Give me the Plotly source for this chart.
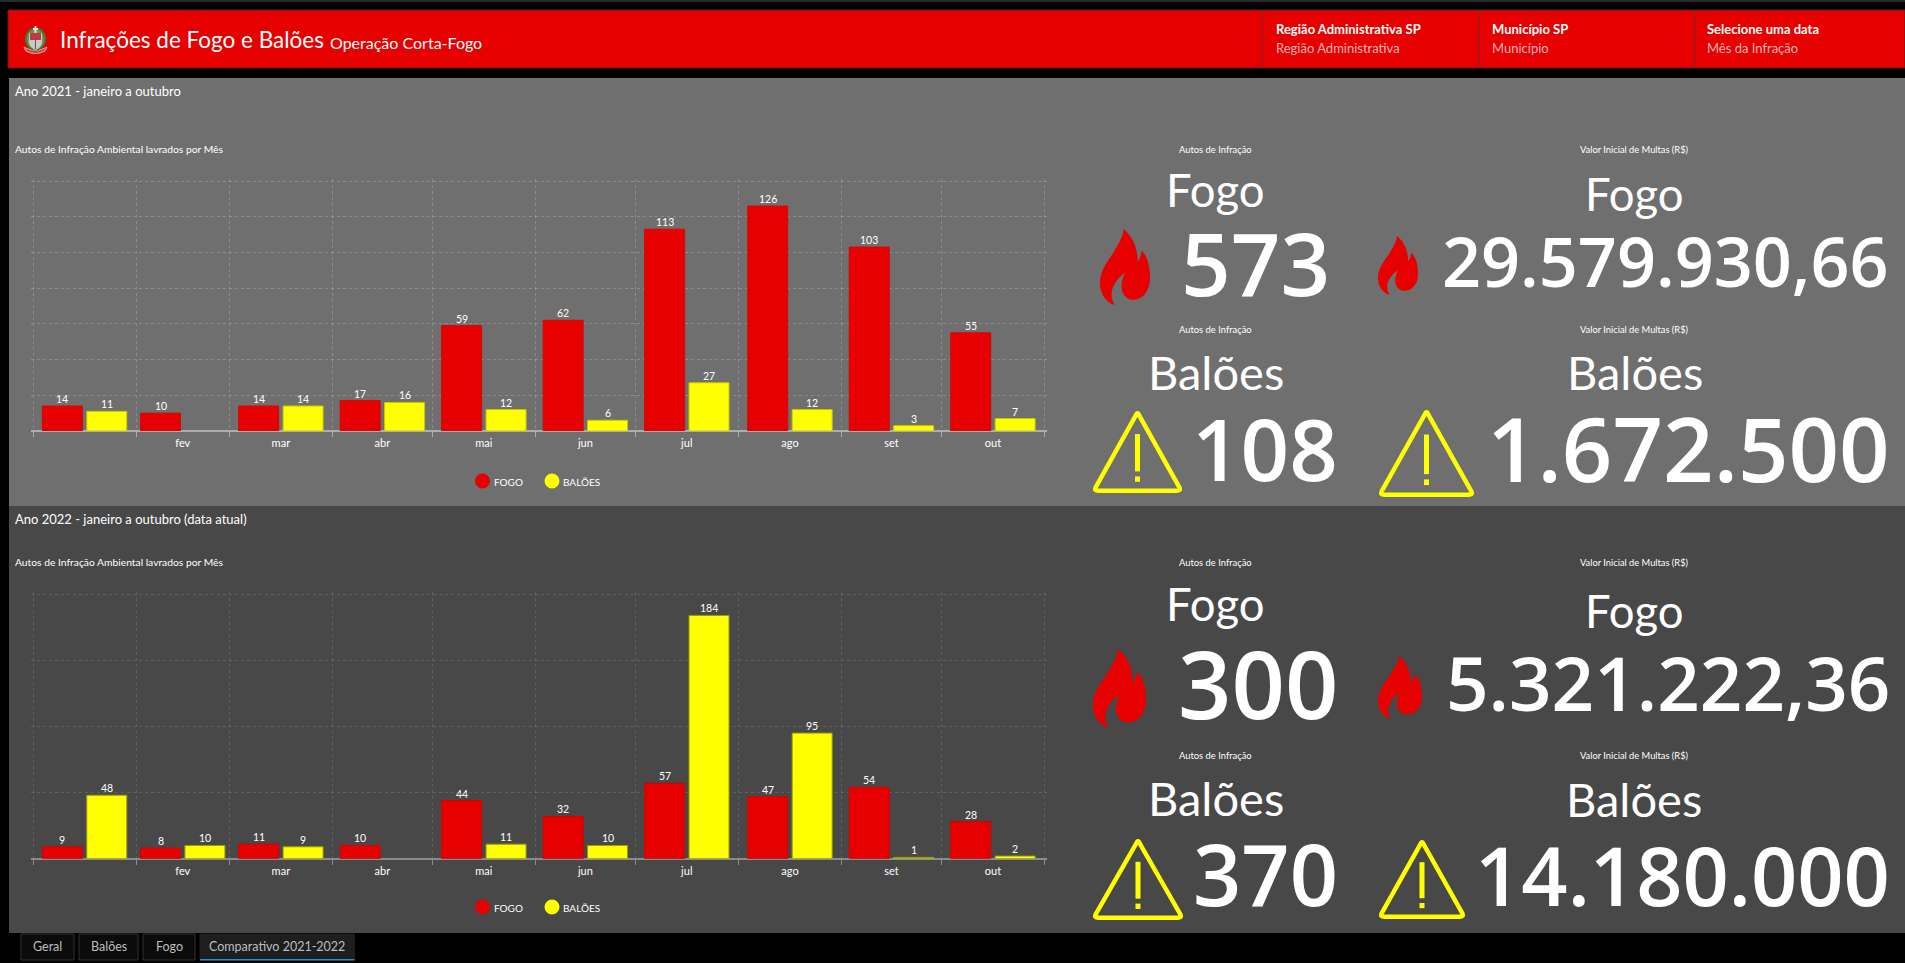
import pandas as pd
import plotly.graph_objects as go

W, H = 1905, 963
FONT = "Lato"
NUM_FONT = "Open Sans"
RED = "#e60000"
YELLOW = "#ffff00"

MESES = ["", "fev", "mar", "abr", "mai", "jun", "jul", "ago", "set", "out"]
FOGO_2021 = [14, 10, 14, 17, 59, 62, 113, 126, 103, 55]
BALOES_2021 = [11, None, 14, 16, 12, 6, 27, 12, 3, 7]
FOGO_2022 = [9, 8, 11, 10, 44, 32, 57, 47, 54, 28]
BALOES_2022 = [48, 10, 9, None, 11, 10, 184, 95, 1, 2]

KPI_AUTOS_FOGO = ["573", "300"]
KPI_AUTOS_BALOES = ["108", "370"]
KPI_MULTAS_FOGO = ["29.579.930,66", "5.321.222,36"]
KPI_MULTAS_BALOES = ["1.672.500", "14.180.000"]
ABAS = ["Geral", "Balões", "Fogo", "Comparativo 2021-2022"]

px = lambda x: x / W
py = lambda y: 1 - y / H

shapes, annotations = [], []


def rect(x0, y0, x1, y1, fill, line=None, lw=0):
    shapes.append(dict(type="rect", xref="paper", yref="paper", layer="below",
                       x0=px(x0), x1=px(x1), y0=py(y0), y1=py(y1), fillcolor=fill,
                       line=dict(color=line or fill, width=lw)))


def circle(cx, cy, rx, ry, fill, line=None, lw=0):
    shapes.append(dict(type="circle", xref="paper", yref="paper", layer="below",
                       x0=px(cx - rx), x1=px(cx + rx), y0=py(cy - ry), y1=py(cy + ry),
                       fillcolor=fill, line=dict(color=line or fill, width=lw)))


def path(cmds, fill=None, line=None, lw=0):
    out = []
    for c in cmds:
        if isinstance(c, str):
            out.append(c)
        else:
            out.append(f"{px(c[0]):.6f},{py(c[1]):.6f}")
    shapes.append(dict(type="path", xref="paper", yref="paper", layer="below",
                       path=" ".join(out), fillcolor=fill or "rgba(0,0,0,0)",
                       line=dict(color=line or "rgba(0,0,0,0)", width=lw)))


def txt(x, y, s, size, color="#ffffff", anchor="left", weight=400, family=FONT):
    annotations.append(dict(xref="paper", yref="paper", x=px(x), y=py(y), text=s, showarrow=False,
                            xanchor=anchor, yanchor="middle", borderpad=0, borderwidth=0,
                            font=dict(family=family, size=size, color=color, weight=weight)))


def num(x, y, s, size):
    txt(x + 2, y - 0.05 * size, s, size, anchor="right", weight=600, family=NUM_FONT)


FLAME = [("M", .30, 1), ("C", .12, .97, 0, .85, 0, .71), ("C", 0, .52, .20, .40, .33, .24), ("C", .42, .14, .47, .07, .47, 0),
         ("C", .62, .08, .76, .22, .75, .43), ("C", .79, .40, .83, .34, .83, .28), ("C", .96, .37, 1, .50, 1, .64),
         ("C", 1, .82, .85, .93, .66, .93), ("C", .53, .93, .42, .85, .43, .74), ("C", .43, .68, .47, .63, .50, .58),
         ("C", .36, .64, .24, .74, .23, .86), ("C", .23, .92, .26, .97, .30, 1)]


def flame(x0, y0, x1, y1):
    cmds = []
    for seg in FLAME:
        cmds.append(seg[0])
        vals = seg[1:]
        for i in range(0, len(vals), 2):
            cmds.append((x0 + vals[i] * (x1 - x0), y0 + vals[i + 1] * (y1 - y0)))
    cmds.append("Z")
    path(cmds, fill=RED)


def warning(x0, y0, x1, y1):
    lw = 4.5
    a, b = x0 + lw / 2, x1 - lw / 2
    t, u = y0 + lw / 2, y1 - lw / 2
    m = (a + b) / 2
    r = 3
    path(["M", (m - r * .55, t + r), "Q", (m, t - 1), (m + r * .55, t + r),
          "L", (b - .2, u - r), "Q", (b + 1, u), (b - r, u),
          "L", (a + r, u), "Q", (a - 1, u), (a + .2, u - r), "Z"], line=YELLOW, lw=lw)
    h = y1 - y0
    rect(m - 2.5, y0 + .29 * h, m + 2.5, y0 + .74 * h, YELLOW)
    rect(m - 2.5, y0 + .80 * h, m + 2.5, y0 + .865 * h, YELLOW)


# page
rect(0, 0, W, 2, "#2a2a2a")
rect(8, 10, W, 68, RED, "#5a2020", 1)
for xd in (1262, 1479, 1695):
    rect(xd - .5, 10, xd + .5, 68, "#7a2626")
rect(9, 78, W, 506, "#6f6f6f")
rect(9, 506, W, 933, "#484848")

# emblem
path(["M", (24, 47), "Q", (35, 54), (47, 47), "L", (45, 51), "Q", (35, 56), (26, 51), "Z"], fill="#c9423f", line="#e8b0a8", lw=1)
circle(35.5, 39, 9.5, 10.5, "#7d8f62", "#2c8a3a", 2)
path(["M", (29, 33), "L", (42, 33), "L", (42, 43), "Q", (41, 48), (35.5, 50), "Q", (30, 48), (29, 43), "Z"], fill="#c9c9c9")
rect(30, 33, 41, 40, "#c23a3a")
rect(34.5, 26, 36.5, 33, "#e0e0e0")
rect(33, 28, 38, 30, "#e0e0e0")
rect(35, 38, 36, 49, "#5a5a5a")

# header
txt(60, 40, "Infrações de Fogo e Balões", 22.5)
txt(330, 42, "Operação Corta-Fogo", 16)
for xt, a, b in [(1276, "Região Administrativa SP", "Região Administrativa"),
                 (1491.5, "Município SP", "Município"),
                 (1707, "Selecione uma data", "Mês da Infração")]:
    txt(xt, 29, a, 13, weight=700)
    txt(xt, 48, b, 13, color="#f6b4b4")

# panel captions
txt(15, 91, "Ano 2021 - janeiro a outubro", 13)
txt(15, 149, "Autos de Infração Ambiental lavrados por Mês", 10.3)
txt(15, 519, "Ano 2022 - janeiro a outubro (data atual)", 13)
txt(15, 562, "Autos de Infração Ambiental lavrados por Mês", 10.3)

# legends
for ly in (481, 907):
    circle(482.5, ly, 7.5, 7.5, RED)
    circle(552, ly, 7.5, 7.5, YELLOW)
    txt(493.5, ly + 1, "FOGO", 10)
    txt(562.5, ly + 1, "BALÕES", 10)

# KPIs - panel 1
txt(1215, 149, "Autos de Infração", 9.4, anchor="center")
txt(1634, 149, "Valor Inicial de Multas (R$)", 9.3, anchor="center")
txt(1215.5, 189, "Fogo", 45.5, anchor="center")
txt(1634, 194, "Fogo", 45.5, anchor="center")
num(1328, 266, KPI_AUTOS_FOGO[0], 87)
num(1887, 264, KPI_MULTAS_FOGO[0], 68.3)
flame(1100, 229, 1150, 305)
flame(1378, 236, 1418, 295)
txt(1215, 329, "Autos de Infração", 9.4, anchor="center")
txt(1634, 329, "Valor Inicial de Multas (R$)", 9.3, anchor="center")
txt(1216, 372, "Balões", 47, anchor="center")
txt(1634.5, 372, "Balões", 47, anchor="center")
num(1336, 452, KPI_AUTOS_BALOES[0], 85)
num(1888, 452, KPI_MULTAS_BALOES[0], 88.5)
warning(1093, 410, 1182, 493)
warning(1379, 409, 1474, 497)

# KPIs - panel 2
txt(1215, 562, "Autos de Infração", 9.4, anchor="center")
txt(1634, 562, "Valor Inicial de Multas (R$)", 9.3, anchor="center")
txt(1215, 603, "Fogo", 45.5, anchor="center")
txt(1634, 610, "Fogo", 45.5, anchor="center")
num(1336, 687, KPI_AUTOS_FOGO[1], 93.5)
num(1888, 686, KPI_MULTAS_FOGO[1], 74.5)
flame(1093, 649, 1146, 728)
flame(1378, 656, 1422, 719)
txt(1215, 755, "Autos de Infração", 9.4, anchor="center")
txt(1634, 755, "Valor Inicial de Multas (R$)", 9.3, anchor="center")
txt(1216, 798, "Balões", 47, anchor="center")
txt(1634, 799, "Balões", 47, anchor="center")
num(1336, 878, KPI_AUTOS_BALOES[1], 84.5)
num(1888, 879, KPI_MULTAS_BALOES[1], 81)
warning(1093, 838, 1183, 920)
warning(1379, 839, 1465, 919)

# tabs
tab_box = [(21, 74), (79, 138), (143, 195), (200, 354.5)]
for i, (nome, (a, b)) in enumerate(zip(ABAS, tab_box)):
    ativo = i == len(ABAS) - 1
    rect(a, 934, b, 960, "#1e1e1e" if ativo else "#0b0b0b", "#1e1e1e" if ativo else "#333333", 1)
    if ativo:
        rect(a, 959, b, 960.5, "#1f8fe0")
    txt((a + b) / 2, 946.5, nome, 12.5, color="#bdbdbd", anchor="center")

# charts
PLOT_X0, PLOT_X1 = 33, 1044.5
EDGE_PX = 2  # the axis range runs slightly past the frame so the outer grid lines are kept
DAY_PX = (PLOT_X1 - PLOT_X0) / 304
DAY_MS = 86400000
BAR_MS = 40 / DAY_PX * DAY_MS
GAP_MS = 4.4 / DAY_PX * DAY_MS

fig = go.Figure()


def add_chart(suffix, ano, fogo, baloes, top, base, ymax, dtick, grid, axisline, edge_y, edge_r):
    inicios = pd.date_range(f"{ano}-01-01", periods=11, freq="MS")
    meios = [a + (b - a) / 2 for a, b in zip(inicios[:-1], inicios[1:])]
    meios = [m.strftime("%Y-%m-%d %H:%M:%S") for m in meios]
    xa, ya = "x" + suffix, "y" + suffix
    for nome, vals, cor, off, edge, dx in [("FOGO", fogo, RED, -GAP_MS / 2 - BAR_MS, edge_r, -22.2),
                                           ("BALÕES", baloes, YELLOW, GAP_MS / 2, edge_y, 22.2)]:
        fig.add_trace(go.Bar(x=meios, y=vals, name=nome, xaxis=xa, yaxis=ya, width=BAR_MS, offset=off,
                             marker=dict(color=cor, line=dict(color=edge, width=1)),
                             showlegend=False, hoverinfo="skip"))
        for m, v in zip(meios, vals):
            if v is not None:
                annotations.append(dict(xref=xa, yref=ya, x=m, y=v, text=str(v), showarrow=False, xshift=dx, yshift=7,
                                        xanchor="center", yanchor="middle", borderpad=0,
                                        font=dict(family=FONT, size=10.5, color="#ffffff")))
    pad = pd.Timedelta(milliseconds=EDGE_PX / DAY_PX * DAY_MS)
    xaxis = dict(type="date", range=[(inicios[0] - pad).strftime("%Y-%m-%d %H:%M:%S"), (inicios[-1] + pad).strftime("%Y-%m-%d %H:%M:%S")],
                 domain=[px(PLOT_X0 - EDGE_PX), px(PLOT_X1 + EDGE_PX)], anchor=ya, tickmode="array", tickvals=meios, ticktext=MESES,
                 ticks="", showgrid=False, zeroline=False, showline=False, ticklabelstandoff=4,
                 tickfont=dict(family=FONT, size=11, color="#ffffff"),
                 minor=dict(tickmode="array", tickvals=[d.strftime("%Y-%m-%d") for d in inicios], ticks="outside",
                            ticklen=5, tickwidth=1, tickcolor=axisline, showgrid=True, gridcolor=grid, griddash="3px,3px", gridwidth=1))
    yaxis = dict(range=[0, ymax * (1 + EDGE_PX / (base - top))], domain=[py(base), py(top - EDGE_PX)], anchor=xa, dtick=dtick,
                 showticklabels=False, ticks="", showgrid=True, gridcolor=grid, griddash="3px,3px", gridwidth=1,
                 zeroline=True, zerolinecolor=axisline, zerolinewidth=2, showline=False)
    return xaxis, yaxis


xa1, ya1 = add_chart("", 2021, FOGO_2021, BALOES_2021, 181, 431, 140, 20, "rgba(255,255,255,0.2)", "#adadad", "#c8c800", "#d00a0a")
xa2, ya2 = add_chart("2", 2022, FOGO_2022, BALOES_2022, 594.3, 858.7, 200, 50, "rgba(255,255,255,0.13)", "#8c8c8c", "#9a9a10", "#cc0505")

fig.update_layout(width=W, height=H, margin=dict(l=0, r=0, t=0, b=0, pad=0), autosize=False,
                  paper_bgcolor="#000000", plot_bgcolor="rgba(0,0,0,0)", barmode="overlay",
                  xaxis=xa1, yaxis=ya1, xaxis2=xa2, yaxis2=ya2, shapes=shapes, annotations=annotations,
                  font=dict(family=FONT, color="#ffffff"), showlegend=False)

fig.write_html("out.html", config=dict(displayModeBar=False),
               post_script="document.body.style.margin='0';document.body.style.background='#000';document.body.style.overflow='hidden';")
